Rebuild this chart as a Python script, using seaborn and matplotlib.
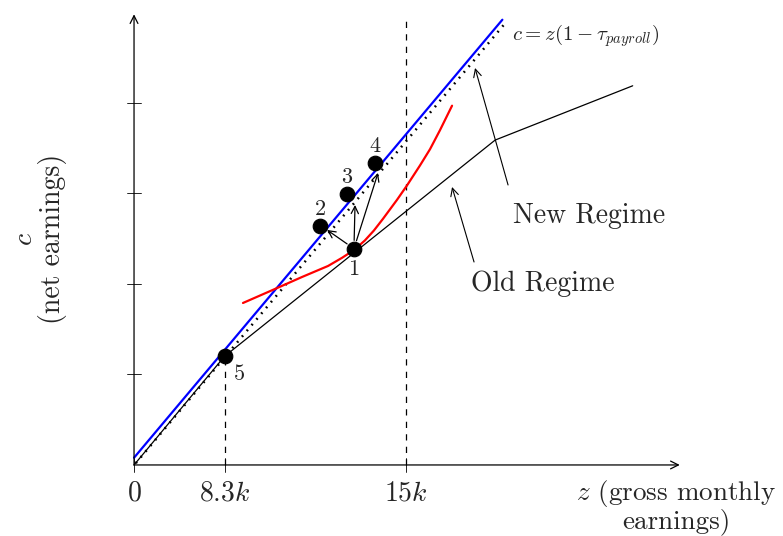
import numpy as np
import pandas as pd
import matplotlib.pyplot as plt
import seaborn as sns

# --- DATA (schematic units: 8.3k at z=1, 15k at z=3) ---
blue_z = [0.0, 4.07]
blue_c = [0.08, 4.92]
dotted_z = [0.02, 4.10]
dotted_c = [0.02, 4.88]

old_z = [0.0, 1.0, 3.99, 5.51]
old_c = [0.0, 1.2, 3.59, 4.19]

red_z = [1.204, 1.558, 1.856, 2.144, 2.30, 2.43, 2.55, 2.65, 2.751, 2.906, 3.017, 3.160, 3.271, 3.381, 3.514]
red_c = [1.790, 1.945, 2.077, 2.199, 2.29, 2.375, 2.48, 2.59, 2.720, 2.930, 3.090, 3.310, 3.490, 3.700, 3.970]

pt_labels = ["1", "2", "3", "4", "5"]
pt_z = [2.43, 2.055, 2.354, 2.663, 1.0]
pt_c = [2.39, 2.641, 2.994, 3.337, 1.2]

# arrow tips from point 1 towards points 2, 3, 4
arrow_tip_z = [2.133, 2.442, 2.696]
arrow_tip_c = [2.597, 2.873, 3.227]

xtick_pos = [0, 1, 3]
xtick_labels = ["$0$", "$8.3k$", "$15k$"]
ytick_pos = [1, 2, 3, 4]

# --- STYLE ---
sns.set_theme(style="white")
plt.rcParams['font.family'] = 'serif'
plt.rcParams['font.serif'] = ['cmr10']
plt.rcParams['mathtext.fontset'] = 'cm'
plt.rcParams['axes.unicode_minus'] = False

fig = plt.figure(figsize=(7.83, 5.36), dpi=100)
ax = fig.add_axes([0, 0, 1, 1])
ax.set_xlim(-1.481, 7.171)
ax.set_ylim(-0.785, 5.138)
ax.axis('off')

# axes with arrows
arrow_kw = dict(arrowstyle='->', color='black', lw=0.9, mutation_scale=14, shrinkA=0, shrinkB=0)
ax.annotate("", xy=(6.03, 0), xytext=(0, 0), arrowprops=arrow_kw)
ax.annotate("", xy=(0, 4.98), xytext=(0, 0), arrowprops=arrow_kw)
for y in ytick_pos:
    ax.plot([-0.075, 0.075], [y, y], color='black', lw=0.6)
for x in xtick_pos:
    ax.plot([x, x], [-0.075, 0.075], color='black', lw=0.6)

# dashed guides
ax.plot([1, 1], [0, pt_c[4]], color='black', lw=0.9, ls=(0, (5, 5)))
ax.plot([3, 3], [0, 4.97], color='black', lw=0.9, ls=(0, (5, 5)))

# regimes
sns.lineplot(x=old_z, y=old_c, sort=False, color='black', lw=0.9, ax=ax)
sns.lineplot(x=dotted_z, y=dotted_c, sort=False, color='black', lw=1.8,
             ls=(0, (0.7, 2.3)), ax=ax)
sns.lineplot(x=blue_z, y=blue_c, sort=False, color='blue', lw=1.6, ax=ax)
sns.lineplot(x=red_z, y=red_c, sort=False, color='red', lw=1.6, ax=ax)
for line in ax.get_lines():
    line.set_solid_joinstyle('round')

# arrows from point 1
small_arrow = dict(arrowstyle='->', color='black', lw=0.9, mutation_scale=13, shrinkA=6, shrinkB=0)
for tz, tc in zip(arrow_tip_z, arrow_tip_c):
    ax.annotate("", xy=(tz, tc), xytext=(pt_z[0], pt_c[0]), arrowprops=small_arrow)

pts = pd.DataFrame({"z": pt_z, "c": pt_c, "label": pt_labels})
sns.scatterplot(data=pts, x="z", y="c", color='black', s=110, edgecolor='black', zorder=5, ax=ax)

label_offsets = {"1": (0, -15), "2": (0, 12), "3": (0, 12), "4": (0, 12), "5": (11, -13)}
for lab, z, c in zip(pt_labels, pt_z, pt_c):
    ax.annotate(lab, xy=(z, c), xytext=label_offsets[lab], textcoords='offset points',
                ha='center', va='center', fontsize=16)

# tick labels
for x, lab in zip(xtick_pos, xtick_labels):
    ax.text(x, -0.31, lab, ha='center', va='center', fontsize=20)

ax.text(5.99, -0.46, "$z$ (gross monthly\nearnings)", ha='center', va='center',
        fontsize=19.5, multialignment='center', linespacing=1.0)
ax.text(-1.05, 2.5, "$c$\n(net earnings)", ha='center', va='center', rotation=90,
        fontsize=20, multialignment='center', linespacing=1.0)

ax.text(4.18, 4.74, r"$c = z(1-\tau_{payroll})$", ha='left', va='center', fontsize=15)

# regime annotations
regime_arrow = dict(arrowstyle='->', color='black', lw=0.8, mutation_scale=14, shrinkA=0, shrinkB=0)
ax.annotate("", xy=(3.768, 4.387), xytext=(4.133, 3.094), arrowprops=regime_arrow)
ax.text(5.03, 2.751, "New Regime", ha='center', va='center', fontsize=20)
ax.annotate("", xy=(3.514, 3.072), xytext=(3.757, 2.243), arrowprops=regime_arrow)
ax.text(4.52, 2.0, "Old Regime", ha='center', va='center', fontsize=20)

plt.savefig("out.png", dpi=100)
